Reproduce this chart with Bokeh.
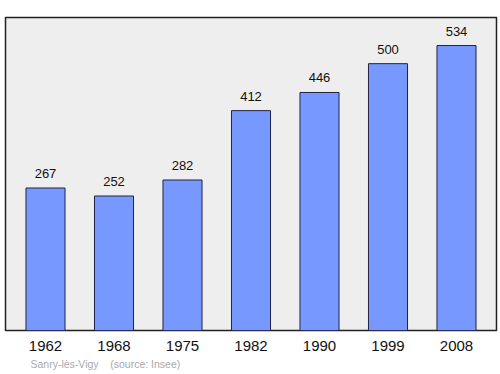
from bokeh.plotting import figure
from bokeh.models import Range1d, FixedTicker, ColumnDataSource, Title
from bokeh.embed import file_html
from bokeh.resources import INLINE

years = ["1962", "1968", "1975", "1982", "1990", "1999", "2008"]
population = [267, 252, 282, 412, 446, 500, 534]
source_note = "Sanry-lès-Vigy\u00a0\u00a0\u00a0\u00a0(source: Insee)"

xs = list(range(len(years)))
src = ColumnDataSource(dict(x=xs, y=population, label=[str(v) for v in population]))

p = figure(width=500, height=374, output_backend="svg", toolbar_location=None,
           x_range=Range1d(-0.584, len(years) - 1 + 0.584), y_range=Range1d(0, 586.5),
           min_border_left=5, min_border_right=4, min_border_top=17, min_border_bottom=44)
p.background_fill_color = "#eeeeee"
p.border_fill_color = "white"
p.outline_line_color = "#222222"
p.outline_line_width = 1.5
p.xgrid.visible = False
p.ygrid.visible = False
p.yaxis.visible = False

p.vbar(x="x", top="y", width=0.57, bottom=0, source=src,
       fill_color="#7799ff", line_color="#222244", line_width=1)
p.text(x="x", y="y", text="label", source=src, text_align="center",
       text_baseline="bottom", y_offset=-10, text_font_size="13px",
       text_font={"value": "Liberation Sans"}, text_color="#111111")

ax = p.xaxis[0]
ax.ticker = FixedTicker(ticks=xs)
ax.major_label_overrides = {i: y for i, y in enumerate(years)}
ax.axis_line_color = None
ax.major_tick_line_color = None
ax.minor_tick_line_color = None
ax.major_label_text_font = "Liberation Sans"
ax.major_label_text_font_size = "15px"
ax.major_label_text_color = "#111111"
ax.major_label_standoff = 4

note = Title(text=source_note, align="left", offset=25, standoff=5,
             text_font="Liberation Sans", text_font_size="10.5px",
             text_font_style="normal", text_color="#aaaaaa")
p.add_layout(note, "below")

open("out.html", "w").write(file_html(p, INLINE))
